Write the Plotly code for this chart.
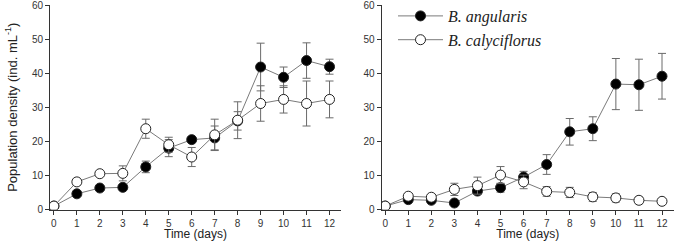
import plotly.graph_objects as go

days = list(range(13))

# Left panel
ang_left = [1.0, 4.6, 6.3, 6.5, 12.5, 18.0, 20.5, 21.0, 26.0, 41.8, 38.8, 43.7, 41.9]
ang_left_err = [0.0, 0.5, 0.4, 0.5, 1.7, 2.5, 0.8, 3.5, 2.7, 7.0, 3.0, 5.2, 2.2]
caly_left = [1.0, 8.1, 10.5, 10.6, 23.7, 19.0, 15.4, 21.9, 26.2, 31.1, 32.3, 31.1, 32.3]
caly_left_err = [0.0, 1.0, 0.5, 2.2, 2.8, 2.2, 2.8, 4.6, 5.4, 5.2, 4.0, 6.6, 5.4]

# Right panel
ang_right = [1.0, 2.9, 2.7, 1.9, 5.4, 6.4, 9.5, 13.2, 22.8, 23.7, 36.8, 36.6, 39.1]
ang_right_err = [0.0, 0.8, 0.5, 0.2, 1.0, 1.3, 1.7, 2.9, 3.9, 3.5, 7.5, 7.5, 6.7]
caly_right = [1.0, 3.9, 3.6, 5.9, 7.0, 10.1, 8.1, 5.3, 5.0, 3.7, 3.4, 2.7, 2.4]
caly_right_err = [0.0, 0.8, 0.5, 1.8, 2.5, 2.5, 2.0, 1.4, 1.5, 1.3, 1.2, 1.0, 0.8]

x_ticks = list(range(13))
y_ticks = [0, 10, 20, 30, 40, 50, 60]

name_ang = "<i>B. angularis</i>"
name_caly = "<i>B. calyciflorus</i>"

LINE = "#7a7a7a"
EDGE = "#222222"
ERR = "#6a6a6a"

fig = go.Figure()

def add(x, y, err, fill, name, xa, ya, show):
    fig.add_trace(go.Scatter(
        x=x, y=y, mode="lines+markers", name=name, showlegend=show,
        xaxis=xa, yaxis=ya,
        line=dict(color=LINE, width=1),
        marker=dict(size=10, color=fill, line=dict(color=EDGE, width=1)),
        error_y=dict(type="data", array=err, visible=True, color=ERR,
                     thickness=1, width=4),
    ))

add(days, ang_left, ang_left_err, "black", name_ang, "x", "y", False)
add(days, caly_left, caly_left_err, "white", name_caly, "x", "y", False)
add(days, ang_right, ang_right_err, "black", name_ang, "x2", "y2", True)
add(days, caly_right, caly_right_err, "white", name_caly, "x2", "y2", True)

W, H = 675, 241
ydom = [1 - 209.5 / H, 1 - 5 / H]

SANS = "Arial, Liberation Sans, sans-serif"
axis_common = dict(
    showgrid=False, zeroline=False, showline=True, linecolor="#333333",
    linewidth=1, ticks="outside", ticklen=4, tickwidth=1, tickcolor="#333333",
    ticklabeloverflow="allow",
    tickfont=dict(family=SANS, size=10, color="#333333"),
)

fig.update_layout(
    width=W, height=H,
    margin=dict(l=0, r=0, t=0, b=0, autoexpand=False),
    paper_bgcolor="white", plot_bgcolor="white",
    showlegend=True,
    legend=dict(
        x=393 / W, y=1 + 1 / H, xanchor="left", yanchor="top",
        bgcolor="rgba(0,0,0,0)",
        font=dict(family="Liberation Serif, Times New Roman, serif", size=16, color="#222222"),
        tracegroupgap=0, itemwidth=45,
    ),
    xaxis=dict(domain=[50 / W, 341 / W], range=[-0.17, 12.5], anchor="y",
               tickvals=x_ticks, automargin=False,
               title=dict(text="Time (days)", standoff=3,
                          font=dict(family=SANS, size=12, color="#222222")),
               **axis_common),
    yaxis=dict(domain=ydom, range=[0, 60], anchor="x", tickvals=y_ticks,
               automargin=False,
               title=dict(text="Population density (ind. mL<sup>-1</sup>)", standoff=11,
                          font=dict(family=SANS, size=13, color="#222222")),
               **axis_common),
    xaxis2=dict(domain=[381.5 / W, 674 / W], range=[-0.16, 12.52], anchor="y2",
                tickvals=x_ticks, automargin=False,
                title=dict(text="Time (days)", standoff=3,
                           font=dict(family=SANS, size=12, color="#222222")),
                **axis_common),
    yaxis2=dict(domain=ydom, range=[0, 60], anchor="x2", tickvals=y_ticks,
                automargin=False, **axis_common),
)

fig.write_html("out.html", config={"displayModeBar": False},
               post_script="document.body.style.margin='0';")
